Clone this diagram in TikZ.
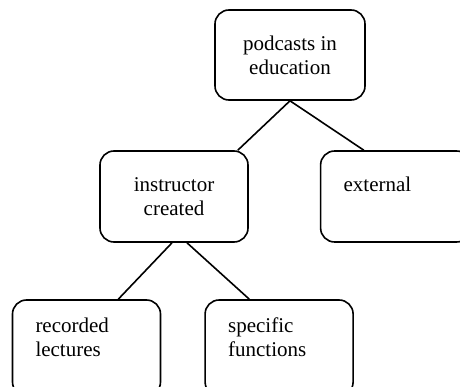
\documentclass[tikz,border=0pt]{standalone}
\usepackage{fontspec}
\setmainfont{Liberation Serif}
\usetikzlibrary{positioning}

\begin{document}
\begin{tikzpicture}[x=1pt,y=-1pt,line width=1.6pt,box/.style={draw,rounded corners=14pt,minimum height=91pt,font=\fontsize{21}{24}\selectfont},midbox/.style={box,align=center},leftbox/.style={box,align=left,inner xsep=23pt,text width=102pt}]
\useasboundingbox (0,0) rectangle (460,387);
\clip (0,0) rectangle (460,387);
\node[midbox,minimum width=150pt,minimum height=90pt] (podcasts) at (290,55) {podcasts in\\education};
\node[midbox,minimum width=148pt] (instr) at (174,196.5) {instructor\\created};
\node[leftbox,text width=104pt,right=71pt of instr] (ext) {external\\\mbox{}};
\node[leftbox,minimum height=96pt] (rec) at (86.5,348) {recorded\\lectures\\[-2pt]\mbox{}};
\node[leftbox,minimum height=96pt,right=43pt of rec] (spec) {specific\\functions\\[-2pt]\mbox{}};
\draw (podcasts.south) -- ([xshift=-11pt]instr.north east); \draw (podcasts.south) -- ([xshift=44pt]ext.north west);
\draw ([xshift=-2pt]instr.south) -- ([xshift=-43pt]rec.north east); \draw ([xshift=13pt]instr.south) -- ([xshift=45pt]spec.north west);
\end{tikzpicture}
\end{document}
